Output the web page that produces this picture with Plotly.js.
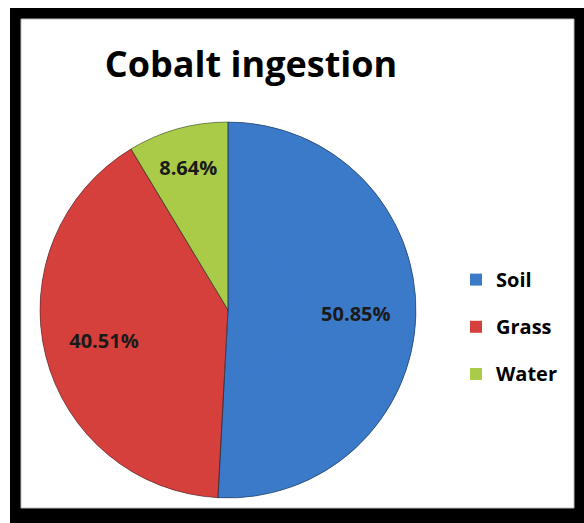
<!DOCTYPE html>
<html>
<head>
<meta charset="utf-8">
<script src="https://cdn.plot.ly/plotly-3.0.1.min.js"></script>
<style>
html,body{margin:0;padding:0;background:#fff;}
#chart{width:584px;height:523px;}
</style>
</head>
<body>
<div id="chart"></div>
<script>
const titleText = "Cobalt ingestion";
const labels = ["Soil", "Grass", "Water"];
const values = [50.85, 40.51, 8.64];
const colors = ["#3b79c9", "#d6403c", "#a9cb48"];

const W = 584, H = 523;
const px = x => x / W;
const py = y => 1 - y / H;

const cx = 228, cy = 310, R = 188;
const dom = {x: [px(cx - R), px(cx + R)], y: [py(cy + R), py(cy - R)]};
const legendLabels = labels.map(l => '<span style="font-size:20px;baseline-shift:6px">' + l + '</span>');

const common = {
  type: "pie",
  labels: legendLabels,
  values: values,
  sort: false,
  direction: "clockwise",
  rotation: 0,
  domain: dom
};

// full pie underneath (fills the centre)
const base = Object.assign({}, common, {
  marker: {colors: colors, line: {width: 0}},
  textinfo: "none",
  showlegend: false,
  hoverinfo: "skip"
});

// ring carrying the percentage labels (hole pushes labels outward)
const ring = Object.assign({}, common, {
  hole: 0.36,
  marker: {colors: colors, line: {width: 0}},
  texttemplate: "%{value:.2f}%",
  textposition: "inside",
  insidetextorientation: "horizontal",
  textfont: {family: "Open Sans", size: 20, color: "#1a1a1a", weight: "bold"},
  hoverinfo: "label+percent"
});

// transparent overlay drawing the slice borders
const outline = Object.assign({}, common, {
  marker: {colors: ["rgba(0,0,0,0)", "rgba(0,0,0,0)", "rgba(0,0,0,0)"],
           line: {color: "rgba(20,30,40,0.45)", width: 1}},
  textinfo: "none",
  showlegend: false,
  hoverinfo: "skip"
});

const layout = {
  width: W, height: H,
  margin: {l: 0, r: 0, t: 0, b: 0},
  paper_bgcolor: "#ffffff",
  title: {
    text: titleText,
    x: px(251), xanchor: "center",
    y: py(64), yanchor: "middle",
    font: {family: "Open Sans", size: 36, color: "#000", weight: "bold"}
  },
  showlegend: true,
  legend: {
    x: px(456), xanchor: "left",
    y: py(327), yanchor: "middle",
    font: {family: "Open Sans", size: 34, color: "#000", weight: "bold"},
    bgcolor: "rgba(0,0,0,0)"
  },
  shapes: [
    {type: "rect", xref: "paper", yref: "paper", layer: "below",
     x0: px(10), x1: 1, y0: 0, y1: py(8),
     fillcolor: "#000", line: {width: 0}},
    {type: "rect", xref: "paper", yref: "paper", layer: "below",
     x0: px(21), x1: px(574), y0: py(508), y1: py(19),
     fillcolor: "#fff", line: {color: "#bbbbbb", width: 1}}
  ]
};

Plotly.newPlot("chart", [base, ring, outline], layout, {displayModeBar: false, staticPlot: true});
</script>
</body>
</html>
